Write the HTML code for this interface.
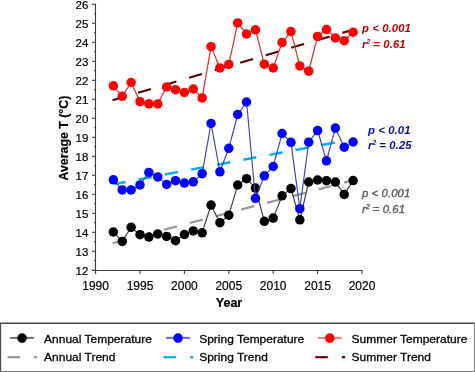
<!DOCTYPE html>
<html><head><meta charset="utf-8"><style>
html,body{margin:0;padding:0;background:#fff;width:475px;height:372px;overflow:hidden}
svg{display:block;will-change:transform}
text{font-family:"Liberation Sans", sans-serif}
</style></head><body>
<svg width="475" height="372" viewBox="0 0 475 372">
<rect width="475" height="372" fill="#fff"/>

<g stroke="#3a3a3a" stroke-width="1.05" fill="none">
<line x1="95.5" y1="3.7" x2="95.5" y2="274"/>
<line x1="92" y1="270.5" x2="362.6" y2="270.5"/>
<line x1="92" y1="270.3" x2="95.5" y2="270.3"/>
<line x1="92" y1="251.3" x2="95.5" y2="251.3"/>
<line x1="92" y1="232.3" x2="95.5" y2="232.3"/>
<line x1="92" y1="213.3" x2="95.5" y2="213.3"/>
<line x1="92" y1="194.3" x2="95.5" y2="194.3"/>
<line x1="92" y1="175.3" x2="95.5" y2="175.3"/>
<line x1="92" y1="156.3" x2="95.5" y2="156.3"/>
<line x1="92" y1="137.3" x2="95.5" y2="137.3"/>
<line x1="92" y1="118.3" x2="95.5" y2="118.3"/>
<line x1="92" y1="99.3" x2="95.5" y2="99.3"/>
<line x1="92" y1="80.3" x2="95.5" y2="80.3"/>
<line x1="92" y1="61.3" x2="95.5" y2="61.3"/>
<line x1="92" y1="42.3" x2="95.5" y2="42.3"/>
<line x1="92" y1="23.3" x2="95.5" y2="23.3"/>
<line x1="92" y1="4.3" x2="95.5" y2="4.3"/>
<line x1="94" y1="260.8" x2="95.5" y2="260.8"/>
<line x1="94" y1="241.8" x2="95.5" y2="241.8"/>
<line x1="94" y1="222.8" x2="95.5" y2="222.8"/>
<line x1="94" y1="203.8" x2="95.5" y2="203.8"/>
<line x1="94" y1="184.8" x2="95.5" y2="184.8"/>
<line x1="94" y1="165.8" x2="95.5" y2="165.8"/>
<line x1="94" y1="146.8" x2="95.5" y2="146.8"/>
<line x1="94" y1="127.8" x2="95.5" y2="127.8"/>
<line x1="94" y1="108.8" x2="95.5" y2="108.8"/>
<line x1="94" y1="89.8" x2="95.5" y2="89.8"/>
<line x1="94" y1="70.8" x2="95.5" y2="70.8"/>
<line x1="94" y1="51.8" x2="95.5" y2="51.8"/>
<line x1="94" y1="32.8" x2="95.5" y2="32.8"/>
<line x1="94" y1="13.8" x2="95.5" y2="13.8"/>
<line x1="95.60" y1="270.5" x2="95.60" y2="274"/>
<line x1="140.00" y1="270.5" x2="140.00" y2="274"/>
<line x1="184.40" y1="270.5" x2="184.40" y2="274"/>
<line x1="228.80" y1="270.5" x2="228.80" y2="274"/>
<line x1="273.20" y1="270.5" x2="273.20" y2="274"/>
<line x1="317.60" y1="270.5" x2="317.60" y2="274"/>
<line x1="362.00" y1="270.5" x2="362.00" y2="274"/>
</g>
<g font-size="11.5" fill="#000" stroke="#000" stroke-width="0.2" text-anchor="end">
<text x="88.3" y="274.9">12</text>
<text x="88.3" y="255.9">13</text>
<text x="88.3" y="236.9">14</text>
<text x="88.3" y="217.9">15</text>
<text x="88.3" y="198.9">16</text>
<text x="88.3" y="179.9">17</text>
<text x="88.3" y="160.9">18</text>
<text x="88.3" y="141.9">19</text>
<text x="88.3" y="122.9">20</text>
<text x="88.3" y="103.9">21</text>
<text x="88.3" y="84.9">22</text>
<text x="88.3" y="65.9">23</text>
<text x="88.3" y="46.9">24</text>
<text x="88.3" y="27.9">25</text>
<text x="88.3" y="8.9">26</text>
</g>
<g font-size="12" fill="#000" stroke="#000" stroke-width="0.2" text-anchor="middle">
<text x="95.60" y="289.5">1990</text>
<text x="140.00" y="289.5">1995</text>
<text x="184.40" y="289.5">2000</text>
<text x="228.80" y="289.5">2005</text>
<text x="273.20" y="289.5">2010</text>
<text x="317.60" y="289.5">2015</text>
<text x="362.00" y="289.5">2020</text>
</g>
<text x="229" y="307" font-size="12.5" font-weight="bold" stroke="#000" stroke-width="0.2" text-anchor="middle">Year</text>
<text transform="translate(68.4,138.1) rotate(-90)" font-size="12.35" stroke="#000" stroke-width="0.2" font-weight="bold" text-anchor="middle">Average T (°C)</text>
<line x1="112.6" y1="243.2" x2="353.1" y2="180.3" stroke="#959595" stroke-width="2.2" stroke-dasharray="13.3 13.3" stroke-dashoffset="0"/>
<line x1="114.5" y1="184.04" x2="348.0" y2="140.1" stroke="#00b0f0" stroke-width="2.5" stroke-dasharray="13.3 13.3" stroke-dashoffset="1.93"/>
<line x1="112.6" y1="100.2" x2="353.1" y2="29.7" stroke="#580000" stroke-width="2.15" stroke-dasharray="13.3 13.3" stroke-dashoffset="0"/>
<polyline points="113.36,232.0 122.24,241.4 131.12,227.3 140.00,234.7 148.88,237.1 157.76,234.0 166.64,236.4 175.52,240.7 184.40,234.5 193.28,230.9 202.16,232.8 211.04,205.1 219.92,222.7 228.80,215.2 237.68,185.0 246.56,178.7 255.44,188.1 264.32,221.3 273.20,218.1 282.08,195.8 290.96,188.6 299.84,219.8 308.72,182.0 317.60,180.0 326.48,180.7 335.36,182.1 344.24,194.4 353.12,180.6" fill="none" stroke="#404040" stroke-width="1.2"/>
<g fill="#000"><circle cx="113.36" cy="232.0" r="4.75"/><circle cx="122.24" cy="241.4" r="4.75"/><circle cx="131.12" cy="227.3" r="4.75"/><circle cx="140.00" cy="234.7" r="4.75"/><circle cx="148.88" cy="237.1" r="4.75"/><circle cx="157.76" cy="234.0" r="4.75"/><circle cx="166.64" cy="236.4" r="4.75"/><circle cx="175.52" cy="240.7" r="4.75"/><circle cx="184.40" cy="234.5" r="4.75"/><circle cx="193.28" cy="230.9" r="4.75"/><circle cx="202.16" cy="232.8" r="4.75"/><circle cx="211.04" cy="205.1" r="4.75"/><circle cx="219.92" cy="222.7" r="4.75"/><circle cx="228.80" cy="215.2" r="4.75"/><circle cx="237.68" cy="185.0" r="4.75"/><circle cx="246.56" cy="178.7" r="4.75"/><circle cx="255.44" cy="188.1" r="4.75"/><circle cx="264.32" cy="221.3" r="4.75"/><circle cx="273.20" cy="218.1" r="4.75"/><circle cx="282.08" cy="195.8" r="4.75"/><circle cx="290.96" cy="188.6" r="4.75"/><circle cx="299.84" cy="219.8" r="4.75"/><circle cx="308.72" cy="182.0" r="4.75"/><circle cx="317.60" cy="180.0" r="4.75"/><circle cx="326.48" cy="180.7" r="4.75"/><circle cx="335.36" cy="182.1" r="4.75"/><circle cx="344.24" cy="194.4" r="4.75"/><circle cx="353.12" cy="180.6" r="4.75"/></g>
<polyline points="113.36,179.8 122.24,189.9 131.12,189.9 140.00,184.9 148.88,172.4 157.76,176.9 166.64,184.5 175.52,180.7 184.40,183.1 193.28,181.8 202.16,173.7 211.04,123.5 219.92,171.8 228.80,148.3 237.68,114.5 246.56,102.0 255.44,198.3 264.32,175.8 273.20,166.5 282.08,133.5 290.96,142.3 299.84,208.7 308.72,142.2 317.60,130.6 326.48,160.8 335.36,128.1 344.24,147.2 353.12,142.0" fill="none" stroke="#3a40c0" stroke-width="1.15"/>
<g fill="#0000ff"><circle cx="113.36" cy="179.8" r="4.75"/><circle cx="122.24" cy="189.9" r="4.75"/><circle cx="131.12" cy="189.9" r="4.75"/><circle cx="140.00" cy="184.9" r="4.75"/><circle cx="148.88" cy="172.4" r="4.75"/><circle cx="157.76" cy="176.9" r="4.75"/><circle cx="166.64" cy="184.5" r="4.75"/><circle cx="175.52" cy="180.7" r="4.75"/><circle cx="184.40" cy="183.1" r="4.75"/><circle cx="193.28" cy="181.8" r="4.75"/><circle cx="202.16" cy="173.7" r="4.75"/><circle cx="211.04" cy="123.5" r="4.75"/><circle cx="219.92" cy="171.8" r="4.75"/><circle cx="228.80" cy="148.3" r="4.75"/><circle cx="237.68" cy="114.5" r="4.75"/><circle cx="246.56" cy="102.0" r="4.75"/><circle cx="255.44" cy="198.3" r="4.75"/><circle cx="264.32" cy="175.8" r="4.75"/><circle cx="273.20" cy="166.5" r="4.75"/><circle cx="282.08" cy="133.5" r="4.75"/><circle cx="290.96" cy="142.3" r="4.75"/><circle cx="299.84" cy="208.7" r="4.75"/><circle cx="308.72" cy="142.2" r="4.75"/><circle cx="317.60" cy="130.6" r="4.75"/><circle cx="326.48" cy="160.8" r="4.75"/><circle cx="335.36" cy="128.1" r="4.75"/><circle cx="344.24" cy="147.2" r="4.75"/><circle cx="353.12" cy="142.0" r="4.75"/></g>
<polyline points="113.36,85.8 122.24,96.3 131.12,82.5 140.00,101.7 148.88,103.8 157.76,103.9 166.64,87.0 175.52,89.7 184.40,92.5 193.28,89.0 202.16,97.9 211.04,46.7 219.92,67.9 228.80,64.4 237.68,22.9 246.56,34.0 255.44,29.8 264.32,64.2 273.20,68.0 282.08,42.6 290.96,31.6 299.84,65.9 308.72,71.2 317.60,36.4 326.48,29.6 335.36,37.9 344.24,40.7 353.12,32.2" fill="none" stroke="#d83838" stroke-width="1.3"/>
<g fill="#ff0000"><circle cx="113.36" cy="85.8" r="4.75"/><circle cx="122.24" cy="96.3" r="4.75"/><circle cx="131.12" cy="82.5" r="4.75"/><circle cx="140.00" cy="101.7" r="4.75"/><circle cx="148.88" cy="103.8" r="4.75"/><circle cx="157.76" cy="103.9" r="4.75"/><circle cx="166.64" cy="87.0" r="4.75"/><circle cx="175.52" cy="89.7" r="4.75"/><circle cx="184.40" cy="92.5" r="4.75"/><circle cx="193.28" cy="89.0" r="4.75"/><circle cx="202.16" cy="97.9" r="4.75"/><circle cx="211.04" cy="46.7" r="4.75"/><circle cx="219.92" cy="67.9" r="4.75"/><circle cx="228.80" cy="64.4" r="4.75"/><circle cx="237.68" cy="22.9" r="4.75"/><circle cx="246.56" cy="34.0" r="4.75"/><circle cx="255.44" cy="29.8" r="4.75"/><circle cx="264.32" cy="64.2" r="4.75"/><circle cx="273.20" cy="68.0" r="4.75"/><circle cx="282.08" cy="42.6" r="4.75"/><circle cx="290.96" cy="31.6" r="4.75"/><circle cx="299.84" cy="65.9" r="4.75"/><circle cx="308.72" cy="71.2" r="4.75"/><circle cx="317.60" cy="36.4" r="4.75"/><circle cx="326.48" cy="29.6" r="4.75"/><circle cx="335.36" cy="37.9" r="4.75"/><circle cx="344.24" cy="40.7" r="4.75"/><circle cx="353.12" cy="32.2" r="4.75"/></g>
<g font-size="11.3" font-weight="bold" font-style="italic" letter-spacing="0.1">
<text x="362" y="31.8" fill="#b40000">p &lt; 0.001</text>
<text x="362" y="48.0" fill="#b40000">r<tspan font-size="6.5" dy="-4" letter-spacing="0">2</tspan><tspan dy="4"> = 0.61</tspan></text>
<text x="368" y="133.6" fill="#0808b0">p &lt; 0.01</text>
<text x="368" y="149.3" fill="#0808b0">r<tspan font-size="6.5" dy="-4" letter-spacing="0">2</tspan><tspan dy="4"> = 0.25</tspan></text>
<text x="362" y="196.9" fill="#585858" font-weight="normal" stroke="#585858" stroke-width="0.35">p &lt; 0.001</text>
<text x="362" y="212.6" fill="#585858" font-weight="normal" stroke="#585858" stroke-width="0.35">r<tspan font-size="6.5" dy="-4" letter-spacing="0">2</tspan><tspan dy="4"> = 0.61</tspan></text>
</g>
<line x1="0" y1="323.3" x2="475" y2="323.3" stroke="#454545" stroke-width="1.6"/>
<line x1="0.55" y1="323" x2="0.55" y2="372" stroke="#4a4a4a" stroke-width="1.1"/>
<line x1="474.5" y1="323" x2="474.5" y2="372" stroke="#888" stroke-width="1"/>
<line x1="0" y1="371.5" x2="475" y2="371.5" stroke="#777" stroke-width="1"/>
<line x1="10.100000000000001" y1="337.9" x2="34.1" y2="337.9" stroke="#707070" stroke-width="2"/>
<circle cx="22.1" cy="338.1" r="4.8" fill="#000"/>
<line x1="7.600000000000001" y1="357.2" x2="20.1" y2="357.2" stroke="#959595" stroke-width="2.2"/>
<line x1="34.1" y1="357.2" x2="37.3" y2="357.2" stroke="#959595" stroke-width="2.2"/>
<text transform="translate(44.1,342.6) scale(1,0.93)" font-size="12" fill="#000" stroke="#000" stroke-width="0.3">Annual Temperature</text>
<text transform="translate(44.1,361.4) scale(1,0.93)" font-size="12" fill="#000" stroke="#000" stroke-width="0.3">Annual Trend</text>
<line x1="166" y1="337.9" x2="190" y2="337.9" stroke="#6b6bd6" stroke-width="2"/>
<circle cx="178" cy="338.1" r="4.8" fill="#0000ff"/>
<line x1="163.5" y1="357.2" x2="176" y2="357.2" stroke="#00b0f0" stroke-width="2.2"/>
<line x1="190" y1="357.2" x2="193.2" y2="357.2" stroke="#00b0f0" stroke-width="2.2"/>
<text transform="translate(199.2,342.6) scale(1,0.93)" font-size="12" fill="#000" stroke="#000" stroke-width="0.3">Spring Temperature</text>
<text transform="translate(199.2,361.4) scale(1,0.93)" font-size="12" fill="#000" stroke="#000" stroke-width="0.3">Spring Trend</text>
<line x1="317.8" y1="337.9" x2="341.8" y2="337.9" stroke="#f08080" stroke-width="2"/>
<circle cx="329.8" cy="338.1" r="4.8" fill="#ff0000"/>
<line x1="315.3" y1="357.2" x2="327.8" y2="357.2" stroke="#6b0000" stroke-width="2.2"/>
<line x1="341.8" y1="357.2" x2="345.0" y2="357.2" stroke="#6b0000" stroke-width="2.2"/>
<text transform="translate(351.6,342.6) scale(1,0.93)" font-size="12" fill="#000" stroke="#000" stroke-width="0.3">Summer Temperature</text>
<text transform="translate(351.6,361.4) scale(1,0.93)" font-size="12" fill="#000" stroke="#000" stroke-width="0.3">Summer Trend</text>
</svg></body></html>
